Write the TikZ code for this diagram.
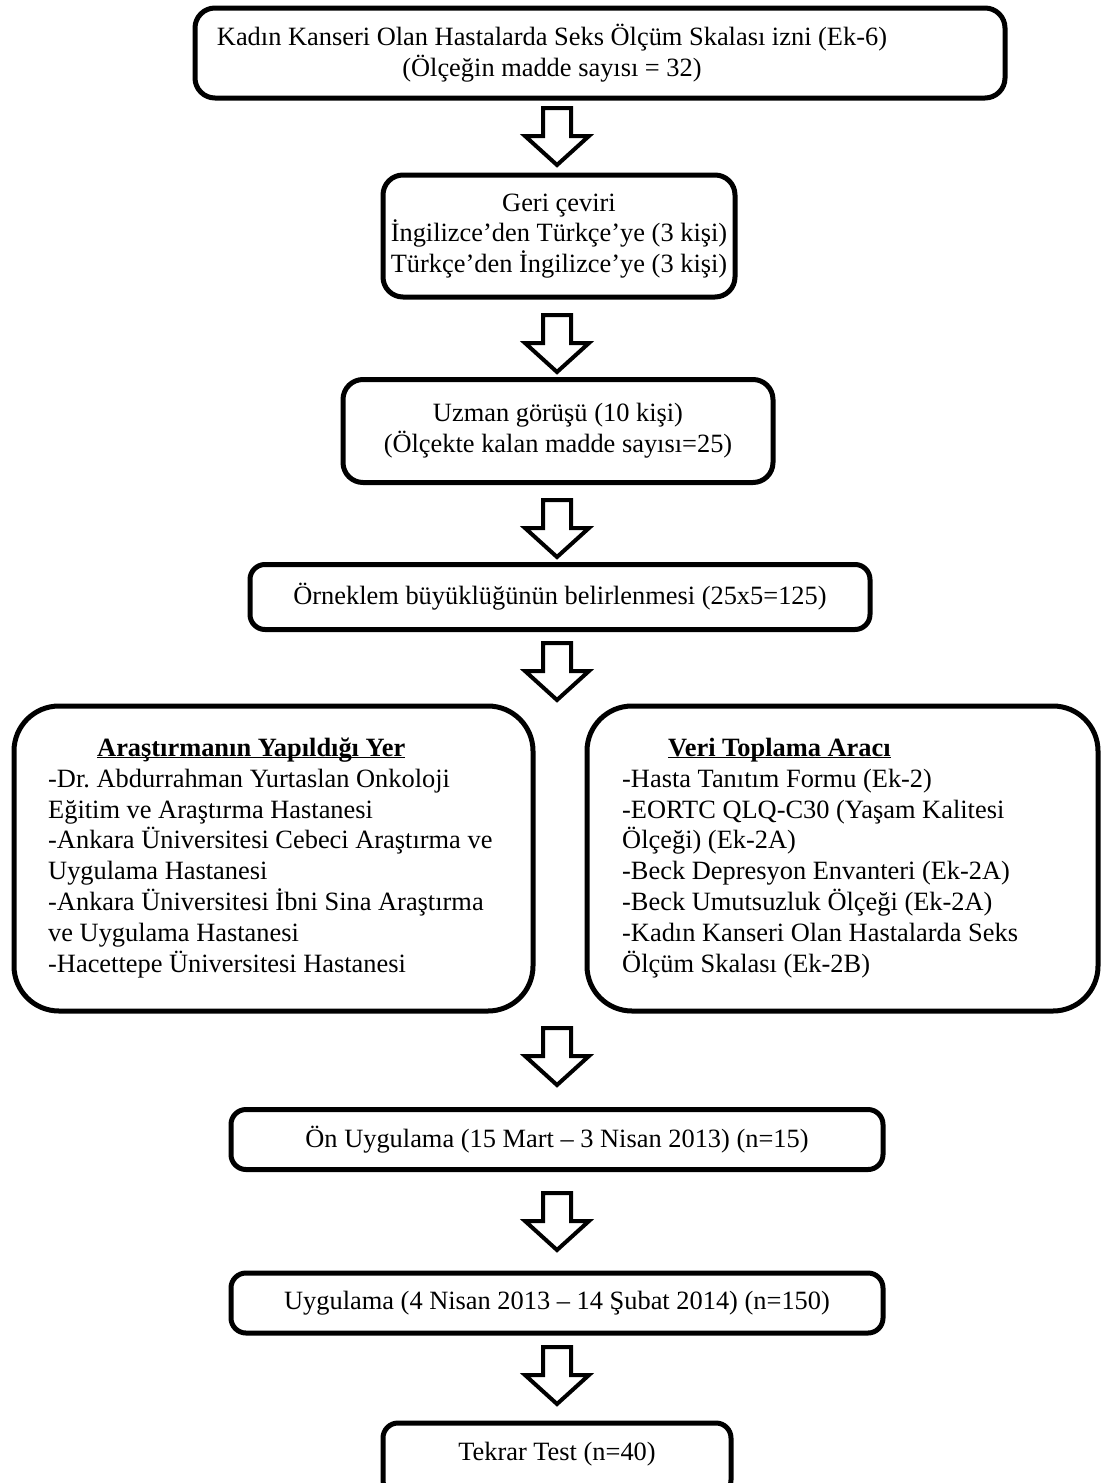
\documentclass[tikz,border=0pt]{standalone}
\usepackage{fontspec}
\setmainfont{Liberation Serif}
\newcommand{\hdul}[1]{\underline{\smash{\textbf{#1}}}}
\begin{document}
\begin{tikzpicture}[x=1pt,y=-1pt,
  box/.style={draw=black, line width=5pt, fill=white, inner sep=0pt},
  txt/.style={font=\fontsize{26.4}{30.8}\selectfont, align=center, inner sep=0pt},
  ltxt/.style={font=\fontsize{26.4}{30.9}\selectfont, align=left, inner sep=0pt, anchor=north west},
  barrow/.pic={\draw[line width=4pt, line join=miter, fill=white]
     (-14,0) -- (-14,28) -- (-32,28) -- (0,57) -- (32,28) -- (14,28) -- (14,0) -- cycle;}
]
\useasboundingbox (0,0) rectangle (1101,1483);
\clip (0,0) rectangle (1101,1483);

% boxes
\node[box, rounded corners=20pt, minimum width=810pt, minimum height=90pt] (b1) at (600,53) {};
\node[txt] (t1) at (552,53) {Kadın Kanseri Olan Hastalarda Seks Ölçüm Skalası izni (Ek-6)\\(Ölçeğin madde sayısı = 32)};

\node[box, txt, rounded corners=20pt, minimum width=352pt, minimum height=122pt] (b2) at (559,236)
  {Geri çeviri\\İngilizce’den Türkçe’ye (3 kişi)\\Türkçe’den İngilizce’ye (3 kişi)};

\node[box, txt, rounded corners=20pt, minimum width=430pt, minimum height=103pt] (b3) at (558,431)
  {Uzman görüşü (10 kişi)\\(Ölçekte kalan madde sayısı=25)};

\node[box, txt, rounded corners=15pt, minimum width=620pt, minimum height=65pt] (b4) at (560,597)
  {Örneklem büyüklüğünün belirlenmesi (25x5=125)};

\node[box, rounded corners=45pt, minimum width=519pt, minimum height=305pt] (b5) at (273.5,858.5) {};
\node[ltxt] (t5) at (48,756) {\hspace*{49pt}\hdul{Araştırmanın Yapıldığı Yer}\\
-Dr.\ Abdurrahman Yurtaslan Onkoloji\\
Eğitim ve Araştırma Hastanesi\\
-Ankara Üniversitesi Cebeci Araştırma ve\\
Uygulama Hastanesi\\
-Ankara Üniversitesi İbni Sina Araştırma\\
ve Uygulama Hastanesi\\
-Hacettepe Üniversitesi Hastanesi};

\node[box, rounded corners=45pt, minimum width=511pt, minimum height=305pt] (b6) at (842.5,858.5) {};
\node[ltxt] (t6) at (622,756) {\hspace*{46pt}\hdul{Veri Toplama Aracı}\\
-Hasta Tanıtım Formu (Ek-2)\\
-EORTC QLQ-C30 (Yaşam Kalitesi\\
Ölçeği) (Ek-2A)\\
-Beck Depresyon Envanteri (Ek-2A)\\
-Beck Umutsuzluk Ölçeği (Ek-2A)\\
-Kadın Kanseri Olan Hastalarda Seks\\
Ölçüm Skalası (Ek-2B)};

\node[box, txt, rounded corners=15pt, minimum width=652pt, minimum height=60pt] (b7) at (557,1139.5)
  {Ön Uygulama (15 Mart – 3 Nisan 2013) (n=15)};

\node[box, txt, rounded corners=15pt, minimum width=652pt, minimum height=60pt] (b8) at (557,1303)
  {Uygulama (4 Nisan 2013 – 14 Şubat 2014) (n=150)};

\node[box, rounded corners=15pt, minimum width=348pt, minimum height=72pt] (b9) at (557,1459) {};
\node[txt] (t9) at (557,1454) {Tekrar Test (n=40)};

% block arrows
\pic (a1) at (557,108) {barrow};
\pic (a2) at (557,315) {barrow};
\pic (a3) at (557,500) {barrow};
\pic (a4) at (557,643) {barrow};
\pic (a5) at (557,1028) {barrow};
\pic (a6) at (557,1193) {barrow};
\pic (a7) at (557,1347) {barrow};
\end{tikzpicture}
\end{document}
